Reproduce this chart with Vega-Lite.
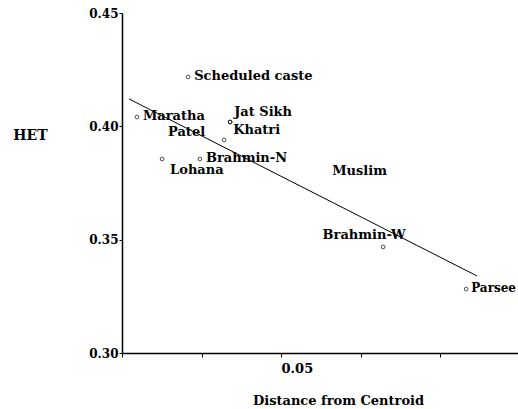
{
  "$schema": "https://vega.github.io/schema/vega-lite/v6.json",
  "width": 396,
  "height": 340,
  "autosize": "none",
  "padding": {"left": 122, "top": 13, "right": 0, "bottom": 56},
  "background": "white",
  "config": {
    "view": {"stroke": null},
    "font": "DejaVu Serif",
    "text": {"font": "DejaVu Serif", "fontWeight": "bold", "fontSize": 13, "color": "#000", "baseline": "middle"},
    "axis": {
      "grid": false,
      "domainColor": "#000",
      "domainWidth": 1.5,
      "tickColor": "#000",
      "labelColor": "#000",
      "titleColor": "#000",
      "labelFont": "DejaVu Serif",
      "labelFontWeight": "bold",
      "titleFont": "DejaVu Serif",
      "titleFontWeight": "bold",
      "labelFontSize": 12,
      "titleFontSize": 13
    }
  },
  "datasets": {
    "groups": [
      {"name": "Scheduled caste", "dist": 0.0208, "het": 0.4218},
      {"name": "Maratha", "dist": 0.0047, "het": 0.4041},
      {"name": "Jat Sikh", "dist": 0.034, "het": 0.4019},
      {"name": "Khatri", "dist": 0.034, "het": 0.4019},
      {"name": "Patel", "dist": 0.0321, "het": 0.394},
      {"name": "Lohana", "dist": 0.0126, "het": 0.3856},
      {"name": "Brahmin-N", "dist": 0.0245, "het": 0.3856},
      {"name": "Muslim", "dist": 0.0642, "het": 0.3799},
      {"name": "Brahmin-W", "dist": 0.0821, "het": 0.3468},
      {"name": "Parsee", "dist": 0.1082, "het": 0.3282}
    ],
    "fit": [
      {"dist": 0.0022, "het": 0.4121},
      {"dist": 0.1116, "het": 0.334}
    ]
  },
  "layer": [
    {
      "data": {"name": "fit"},
      "mark": {"type": "line", "color": "#000", "strokeWidth": 1},
      "encoding": {
        "x": {
          "field": "dist", "type": "quantitative",
          "scale": {"domain": [0, 0.1245], "nice": false, "zero": false},
          "axis": {
            "title": "Distance from Centroid",
            "values": [0, 0.025, 0.05, 0.075, 0.1],
            "labelExpr": "datum.value == 0.05 ? '0.05' : ''",
            "labelAlign": "left",
            "labelFontSize": 13,
            "labelPadding": 5,
            "labelFlush": false,
            "tickSize": 4,
            "titleX": 216,
            "titleY": 47,
            "titleBaseline": "middle"
          }
        },
        "y": {
          "field": "het", "type": "quantitative",
          "scale": {"domain": [0.3, 0.45], "nice": false, "zero": false},
          "axis": {
            "title": "HET",
            "values": [0.3, 0.35, 0.4, 0.45],
            "format": ".2f",
            "tickSize": 3,
            "labelPadding": 1,
            "labelFlush": false,
            "titleAngle": 0,
            "titleAlign": "center",
            "titleBaseline": "middle",
            "titleFontSize": 14,
            "titleX": -92,
            "titleY": 122
          }
        }
      }
    },
    {
      "data": {"name": "groups"},
      "transform": [{"filter": "datum.name != 'Muslim'"}],
      "mark": {"type": "point", "shape": "circle", "size": 14, "filled": false, "stroke": "#000", "strokeWidth": 1},
      "encoding": {
        "x": {"field": "dist", "type": "quantitative"},
        "y": {"field": "het", "type": "quantitative"}
      }
    },
    {
      "data": {"name": "groups"},
      "transform": [{"filter": "indexof(['Scheduled caste','Maratha','Brahmin-N','Muslim'], datum.name) >= 0"}],
      "mark": {"type": "text", "align": "left", "dx": 6, "dy": -1},
      "encoding": {
        "x": {"field": "dist", "type": "quantitative"},
        "y": {"field": "het", "type": "quantitative"},
        "text": {"field": "name"}
      }
    },
    {
      "data": {"name": "groups"},
      "transform": [{"filter": "datum.name == 'Parsee'"}],
      "mark": {"type": "text", "align": "left", "dx": 5, "dy": -1, "fontSize": 12},
      "encoding": {
        "x": {"field": "dist", "type": "quantitative"},
        "y": {"field": "het", "type": "quantitative"},
        "text": {"field": "name"}
      }
    },
    {
      "data": {"name": "groups"},
      "transform": [{"filter": "datum.name == 'Jat Sikh'"}],
      "mark": {"type": "text", "align": "left", "dx": 4, "dy": -10},
      "encoding": {
        "x": {"field": "dist", "type": "quantitative"},
        "y": {"field": "het", "type": "quantitative"},
        "text": {"field": "name"}
      }
    },
    {
      "data": {"name": "groups"},
      "transform": [{"filter": "datum.name == 'Khatri'"}],
      "mark": {"type": "text", "align": "left", "dx": 3, "dy": 8},
      "encoding": {
        "x": {"field": "dist", "type": "quantitative"},
        "y": {"field": "het", "type": "quantitative"},
        "text": {"field": "name"}
      }
    },
    {
      "data": {"name": "groups"},
      "transform": [{"filter": "datum.name == 'Patel'"}],
      "mark": {"type": "text", "align": "right", "dx": -19, "dy": -8},
      "encoding": {
        "x": {"field": "dist", "type": "quantitative"},
        "y": {"field": "het", "type": "quantitative"},
        "text": {"field": "name"}
      }
    },
    {
      "data": {"name": "groups"},
      "transform": [{"filter": "datum.name == 'Lohana'"}],
      "mark": {"type": "text", "align": "left", "dx": 8, "dy": 11},
      "encoding": {
        "x": {"field": "dist", "type": "quantitative"},
        "y": {"field": "het", "type": "quantitative"},
        "text": {"field": "name"}
      }
    },
    {
      "data": {"name": "groups"},
      "transform": [{"filter": "datum.name == 'Brahmin-W'"}],
      "mark": {"type": "text", "align": "center", "dx": -19, "dy": -12},
      "encoding": {
        "x": {"field": "dist", "type": "quantitative"},
        "y": {"field": "het", "type": "quantitative"},
        "text": {"field": "name"}
      }
    }
  ]
}
